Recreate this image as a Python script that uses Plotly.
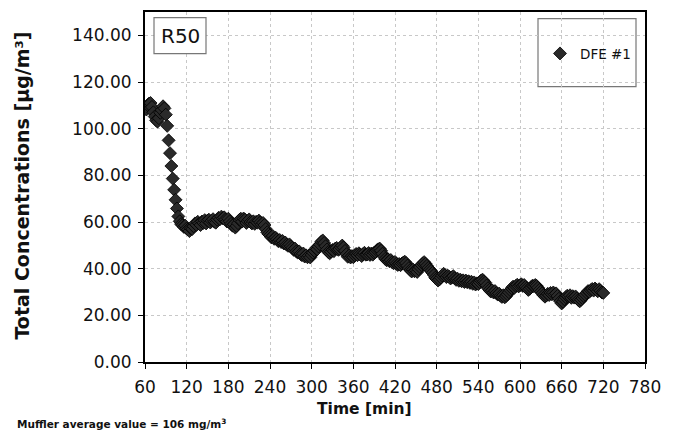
import plotly.graph_objects as go

# Time axis (minutes), sampled every 2 minutes from 60 to 720
time_min = list(range(60, 722, 2))

# DFE #1 total concentrations [µg/m³]
dfe1 = [
    109.0, 108.2, 110.1, 110.8, 111.0, 109.3, 107.0, 105.2, 103.6, 103.0,
    104.5, 106.8, 108.0, 109.6, 108.7, 106.0, 101.2, 95.0, 89.5, 84.0,
    78.6, 73.8, 69.5, 65.8, 62.4, 60.3, 59.1, 58.6, 57.9, 58.4,
    57.2, 56.8, 56.1, 57.3, 57.0, 58.2, 59.4, 58.8, 60.1, 59.3,
    58.7, 60.2, 59.6, 60.8, 59.4, 60.6, 61.0, 59.8, 60.5, 61.2,
    60.1, 59.7, 61.0, 61.8, 61.2, 62.3, 61.6, 62.0, 61.1, 60.2,
    61.4, 60.3, 59.2, 58.4, 59.0, 57.6, 58.3, 59.5, 60.9, 61.4,
    60.2, 61.5, 61.0, 59.6, 60.4, 61.1, 60.0, 59.4, 60.3, 59.2,
    60.1, 59.7, 60.6, 59.8, 58.9, 59.6, 58.7, 57.0, 55.6, 54.8,
    54.2, 53.4, 54.0, 52.8, 53.3, 52.6, 51.8, 52.3, 51.4, 51.9,
    50.8, 51.2, 50.3, 49.8, 50.4, 49.6, 48.9, 48.1, 48.6, 47.4,
    46.9, 47.4, 46.3, 45.8, 46.5, 45.2, 45.7, 44.9, 45.6, 44.8,
    45.9, 46.8, 47.6, 48.7, 48.3, 49.5, 50.4, 51.6, 52.1, 51.0,
    49.6, 48.2, 47.1, 46.6, 47.3, 48.0, 47.5, 48.6, 48.9, 48.1,
    48.4, 49.2, 49.9, 49.1, 47.6, 46.2, 45.1, 45.6, 44.8, 45.4,
    44.9, 45.7, 46.3, 45.8, 46.6, 46.1, 45.4, 46.2, 46.8, 46.0,
    46.1, 46.7, 45.9, 46.5, 46.0, 46.8, 47.2, 47.9, 48.3, 48.6,
    47.7, 46.4, 45.1, 44.2, 43.6, 43.9, 43.2, 43.7, 42.8, 42.3,
    42.9, 42.1, 41.6, 42.0, 41.5, 42.2, 42.6, 43.0, 42.4, 41.3,
    40.2, 39.4, 38.8, 39.6, 38.9, 39.3, 38.6, 39.8, 40.7, 41.6,
    42.3, 42.8, 42.1, 41.2, 40.3, 39.6, 39.0, 38.2, 37.3, 36.1,
    35.6, 34.9, 35.4, 36.2, 37.1, 37.8, 37.2, 36.4, 37.0, 36.5,
    35.8, 36.3, 36.8, 35.9, 35.2, 35.7, 34.8, 35.3, 34.6, 35.0,
    34.3, 34.9, 34.2, 34.6, 33.9, 34.4, 33.5, 34.1, 33.2, 33.7,
    33.4, 34.2, 34.9, 35.3, 34.6, 34.0, 32.8, 31.6, 30.9, 30.2,
    30.7, 29.8, 30.4, 29.5, 28.9, 29.3, 28.4, 27.9, 28.6, 27.7,
    28.3, 29.0, 29.9, 30.8, 31.6, 32.3, 31.8, 32.6, 33.1, 32.4,
    32.9, 33.3, 32.6, 33.0, 32.2, 31.6, 30.9, 31.4, 32.1, 32.7,
    32.5, 33.0, 32.6, 31.8, 30.9, 30.1, 29.4, 28.6, 28.0, 28.5,
    29.2, 28.7, 29.6, 29.0, 29.8, 28.9, 29.4, 28.3, 27.1, 26.0,
    25.1, 25.8, 26.9, 27.8, 28.4, 28.0, 28.6, 27.5, 28.2, 27.6,
    28.1, 27.3, 26.6, 26.0, 26.7, 27.4, 28.2, 28.9, 29.7, 30.4,
    30.1, 30.8, 31.3, 30.6, 31.5, 31.0, 30.3, 31.2, 30.5, 29.8,
    29.6,
]

x_ticks = [60, 120, 180, 240, 300, 360, 420, 480, 540, 600, 660, 720, 780]
y_ticks = [0, 20, 40, 60, 80, 100, 120, 140]

series_name = "DFE #1"
panel_label = "R50"
x_title = "Time [min]"
y_title = "Total Concentrations [µg/m³]"
footnote = "Muffler average value = 106 mg/m<sup>3</sup>"

FONT = "DejaVu Sans, Liberation Sans, Arial, sans-serif"

fig = go.Figure()
fig.add_trace(go.Scatter(
    x=time_min, y=dfe1, mode="markers", name=series_name,
    marker=dict(symbol="diamond", size=10, color="#2a2a2a",
                line=dict(color="#000000", width=0.8)),
))

grid = dict(showgrid=True, gridcolor="#c8c8c8", griddash="dot", gridwidth=1)

fig.update_layout(
    width=675, height=431,
    margin=dict(l=145, r=30, t=12, b=69, autoexpand=False),
    paper_bgcolor="white", plot_bgcolor="white",
    font=dict(family=FONT, color="#111"),
    showlegend=True,
    legend=dict(x=0.79, y=0.881, xanchor="left", yanchor="middle",
                bgcolor="rgba(0,0,0,0)", borderwidth=0,
                font=dict(size=13.5, color="#111", family=FONT), itemwidth=30),
    xaxis=dict(range=[60, 780], tickvals=x_ticks, ticktext=[str(v) for v in x_ticks],
               showline=True, linecolor="#000", linewidth=2, mirror=True,
               ticks="outside", ticklen=5, tickcolor="#000", ticklabelstandoff=4,
               tickfont=dict(size=17, color="#111", family=FONT), zeroline=False, **grid),
    yaxis=dict(range=[0, 150], tickvals=y_ticks, tickformat=".2f",
               showline=True, linecolor="#000", linewidth=2, mirror=True,
               ticks="outside", ticklen=5, tickcolor="#000", ticklabelstandoff=3,
               tickfont=dict(size=17, color="#111", family=FONT), zeroline=False, **grid),
)

# Y title
fig.add_annotation(xref="paper", yref="paper", x=-0.246, y=0.504,
                   xanchor="center", yanchor="middle",
                   text="<b>" + y_title + "</b>", textangle=-90, showarrow=False,
                   font=dict(size=19, color="#111", family=FONT))
# X title
fig.add_annotation(xref="paper", yref="paper", x=0.438, y=-0.133,
                   xanchor="center", yanchor="middle",
                   text="<b>" + x_title + "</b>", showarrow=False,
                   font=dict(size=15.5, color="#111", family=FONT))
# Footnote
fig.add_annotation(xref="paper", yref="paper", x=-0.26, y=-0.176,
                   xanchor="left", yanchor="middle",
                   text="<b>" + footnote + "</b>", showarrow=False,
                   font=dict(size=10.5, color="#111", family=FONT))
# Panel label box
fig.add_shape(type="rect", xref="paper", yref="paper",
              x0=0.018, x1=0.122, y0=0.881, y1=0.984,
              line=dict(color="#777", width=1.2), fillcolor="white")
fig.add_annotation(xref="paper", yref="paper", x=0.07, y=0.932,
                   xanchor="center", yanchor="middle",
                   text=panel_label, showarrow=False,
                   font=dict(size=20, color="#111", family=FONT))
# Legend box
fig.add_shape(type="rect", xref="paper", yref="paper",
              x0=0.786, x1=0.982, y0=0.787, y1=0.981,
              line=dict(color="#777", width=1.2), fillcolor="white", layer="below")

fig.write_html("out.html", config={"displayModeBar": False},
               post_script="document.body.style.margin='0px';")
